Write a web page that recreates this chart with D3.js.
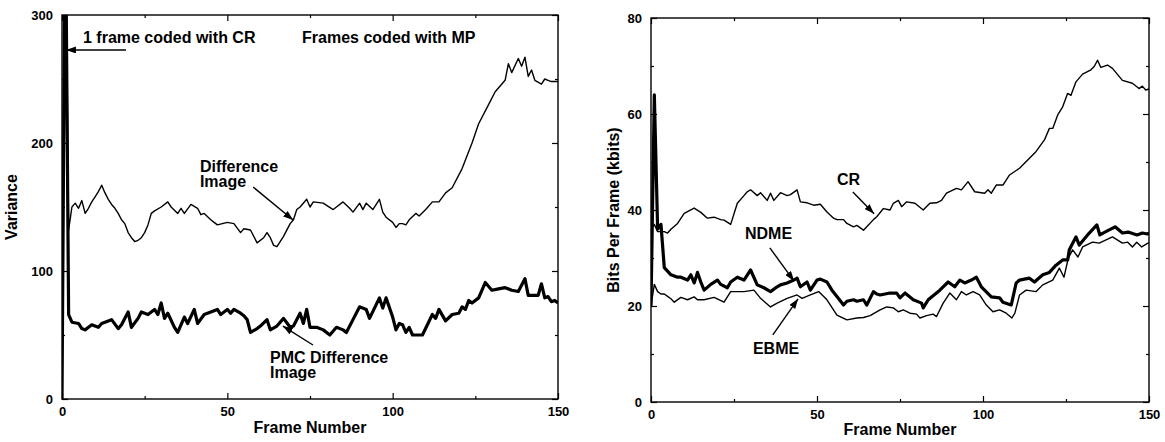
<!DOCTYPE html>
<html><head><meta charset="utf-8">
<script src="https://cdn.jsdelivr.net/npm/d3@7"></script>
<style>
body{margin:0;background:#fff;}
svg{display:block;}
text{font-family:"Liberation Sans",Arial,Helvetica,sans-serif;fill:#000;}
</style></head><body>
<svg id="c" width="1165" height="442"></svg>
<script>
// ---------- DATA ----------
// Left chart: Variance
const diffFrames = [0,1,2,3,4,5,6,7,8,9,10,11,12,13,14,15,16,17,18,19,20,21,22,23,24,25,26,27,28,30,32,33,35,36,37,39,41,42,43,45,46,47,50,52,54,55,57,59,61,62,63,64,65,67,69,70,71,72,74,75,76,79,82,83,85,87,88,90,91,92,94,96,97,98,100,101,102,103,104,105,107,108,110,112,114,116,118,121,124,126,129,131,134,135,136,138,139,140,141,142,143,145,146,147,148,150];
const diffValues = [0,400,132,150,153,149,155,145,149,154,158,162,167,161,156,152,149,145,140,137,130,126,123,124,126,130,136,145,147,150,154,150,145,149,145,152,149,144,145,140,138,136,138,137,130,133,132,122,126,130,126,120,119,127,137,140,148,150,156,150,154,153,148,150,154,149,146,153,148,153,148,156,146,142,138,134,137,137,136,140,145,143,148,154,154,161,165,180,200,215,230,240,249,262,255,266,260,267,252,257,249,246,250,249,248,248];
const pmcFrames = [0,1,2,3,5,6,7,8,9,11,12,14,15,17,18,20,21,23,24,26,28,29,30,31,32,34,35,37,38,40,41,43,45,47,48,50,51,52,54,55,56,57,59,60,62,63,65,67,69,70,72,73,74,75,77,79,81,83,85,86,88,90,92,93,96,97,98,100,101,102,103,104,105,106,109,112,113,114,116,118,120,121,122,123,124,126,128,130,132,134,136,138,140,141,144,145,146,147,148,149,150];
const pmcValues = [0,400,66,60,59,55,54,56,58,56,59,61,62,55,58,68,56,63,68,66,70,66,75,63,67,56,52,64,59,70,59,66,68,70,66,70,67,70,67,65,62,52,55,57,62,54,57,63,56,57,67,59,70,56,56,54,50,56,54,52,62,72,70,63,79,71,79,64,54,59,58,52,56,50,50,66,63,70,61,66,67,72,70,77,75,79,91,85,86,87,85,84,94,81,81,90,79,80,76,77,75];

// Right chart: Bits per frame (kbits)
const crFrames = [0,1,2,4,5,6,8,10,13,15,17,19,21,22,24,26,28,29,30,32,33,35,36,37,39,41,42,44,45,47,49,51,53,55,56,58,59,61,62,64,65,67,68,70,72,73,74.5,75.5,77,79.5,82,84,86,87.5,89,92,93.5,95.5,97.5,100.5,101.5,102.5,104,106,108,111,114,116,118.5,120,121,122.5,124,125.5,126.5,128,130,132.5,133.5,134.5,135.5,137.5,139,142,145,147,148,149,150];
const crValues = [36,37,35.5,35.5,35.2,36,37.2,39.3,40.4,39.5,38.3,38.5,38,37.9,37,41.4,43,43.8,44.2,43,43.6,42,43.5,42,43.6,43,43.2,44.2,41.7,41.5,41,41.2,39.6,38.3,38,38,37.2,36.5,36.8,35.8,36.5,38,38.6,40.3,40,41.4,42,40.7,41.7,41.4,40,41.4,41.5,42,43.5,44.5,44.2,45.9,43.8,43.5,44.2,43.5,45.2,45.2,47.3,48.7,50.8,52.2,54.6,57,57,59.8,61.5,64.3,63.9,66.7,68.3,69.2,69.9,71.2,69.7,70.2,69.5,67,66.4,65.3,65.8,65,65.2];
const ndmeFrames = [0,1,2,3,4,6,8,9,11,12,13,14,15,16,18,20,21,23,24,26,28,30,32,34,36,38,39,41,43,44,45,47,48,50,51,53,54.5,56,58,59,61,62,64,65,67,68,69,72,74,75,76.5,79,81.5,82,83.5,87,89.5,91.5,93,94.5,96.5,98,99.5,102.5,105,106,108.5,110,111,114,115.5,118,120,122,124,125.5,126,128,129,132,134.3,135.2,137,139.8,142,143.7,146.4,148,149.5,150];
const ndmeValues = [20,64,36,37,28,26.5,26,26,25.4,26.5,24.8,27,25,23.3,24.5,25.4,24.5,23.8,25,26,25.4,27.5,24.4,23.8,23,24,24.4,24.8,25.4,25.8,24,25,23.3,25.4,25.6,25,23.3,22,20.2,21,21.3,21,21.3,20.2,23,22.5,22.3,22.7,22.7,21.7,22.7,21.3,20.6,19.6,21.3,23.3,25,24,25.4,24.8,25.4,26,24,21.9,21.7,20.8,20.2,24.8,25.4,25.8,25,26.5,27,28.5,29.6,29.6,31.7,34.4,32.7,35.2,36.9,34.8,35.5,36.5,35.2,35.4,34.8,35.2,35,35.2];
const ebmeFrames = [0,1,2,3,4,5,6,7,9,11,13,14,16,19,22,24,26,28,31,33,36,38,41,44,45.5,48,50.5,53,56,59,62,64,66,69,71,73,74.5,76,78,80,81,83,85,86,88,90,92,93.5,95,97,99,101,103,105,107,108.7,109.6,111,113,116,118,121,123,124.4,125.7,127,128.6,130,133,135,139,142,143.6,145,146.3,147.8,149.4,150];
const ebmeValues = [20,24.5,23,22.5,22.5,22,21.5,20.8,21.8,21.3,21.9,21.3,21.3,21.8,20.8,23,23,23,23.3,21.6,19.8,20.6,21.6,22.3,21.6,22.3,23,21.3,18.1,17.1,17.5,17.6,18,19.2,19.8,19.6,18.8,19.2,18.5,18.3,17.5,18,18.3,17.8,20.6,22.7,21.3,23,22.3,23,22.3,20.2,18.8,19.2,18.5,17.5,18.5,22.3,23.3,23,24.4,25.4,27.9,26,30,31.7,30.2,32.3,33.3,33.1,34.4,33.1,33.3,32.3,33.3,32.3,33,33.2];

// Axis ticks / labels
const xMajor = [0,50,100,150];
const xMinor = [25,75,125];
const leftYMajor = [0,100,200,300];
const leftYMinor = [50,150,250];
const rightYMajor = [0,20,40,60,80];
const rightYMinor = [10,30,50,70];
const leftYTitle = "Variance";
const rightYTitle = "Bits Per Frame (kbits)";
const xTitle = "Frame Number";

// Annotations in data units
const leftTexts = [
  {t:"1 frame coded with CR", f:6.35, v:278},
  {t:"Frames coded with MP", f:72.6, v:278},
  {t:"Difference", f:41.7, v:177.3},
  {t:"Image", f:41.7, v:165.6},
  {t:"PMC Difference", f:62.9, v:28.1},
  {t:"Image", f:62.9, v:16.4}
];
const leftArrows = [
  {f0:19.35, v0:272.7, f1:1.2, v1:272.7},
  {f0:57.8, v0:165.6, f1:69.9, v1:139.8},
  {f0:75.9, v0:42.2, f1:66.8, v1:57}
];
const rightTexts = [
  {t:"CR", f:56, v:45.2},
  {t:"NDME", f:28.3, v:34},
  {t:"EBME", f:30.7, v:10}
];
const rightArrows = [
  {f0:60.8, v0:43.75, f1:67.2, v1:39.2},
  {f0:35.8, v0:32.1, f1:43.1, v1:25.2},
  {f0:36.7, v0:14, f1:44.3, v1:21.5}
];

// ---------- DRAW ----------
const svg = d3.select("#c");
const defs = svg.append("defs");
defs.append("marker").attr("id","ah").attr("markerUnits","userSpaceOnUse")
  .attr("viewBox","0 0 10 7").attr("refX",10).attr("refY",3.5)
  .attr("markerWidth",10).attr("markerHeight",7).attr("orient","auto")
  .append("path").attr("d","M0,0L10,3.5L0,7Z").attr("fill","#000");

function panel(cfg){
  const x = d3.scaleLinear().domain([0,150]).range([cfg.x0,cfg.x1]);
  const y = d3.scaleLinear().domain(cfg.yDomain).range([cfg.y0,cfg.y1]);
  const g = svg.append("g");
  const id = "clip"+cfg.id;
  defs.append("clipPath").attr("id",id).append("rect")
    .attr("x",cfg.x0).attr("y",cfg.y1).attr("width",cfg.x1-cfg.x0).attr("height",cfg.y0-cfg.y1);

  const style = sel => { sel.select(".domain").remove();
    sel.selectAll("line").attr("stroke","#000").attr("stroke-width",1.2);
    sel.selectAll("text").style("font-size","13px").style("font-weight","bold"); };

  // bottom
  g.append("g").attr("transform",`translate(0,${cfg.y0})`)
    .call(d3.axisBottom(x).tickValues(xMajor).tickSize(-6).tickPadding(8).tickFormat(d3.format("d"))).call(style);
  g.append("g").attr("transform",`translate(0,${cfg.y0})`)
    .call(d3.axisBottom(x).tickValues(xMinor).tickSize(-3).tickFormat("")).call(style);
  // top
  g.append("g").attr("transform",`translate(0,${cfg.y1})`)
    .call(d3.axisTop(x).tickValues(xMajor).tickSize(-6).tickFormat("")).call(style);
  g.append("g").attr("transform",`translate(0,${cfg.y1})`)
    .call(d3.axisTop(x).tickValues(xMinor).tickSize(-3).tickFormat("")).call(style);
  // left
  g.append("g").attr("transform",`translate(${cfg.x0},0)`)
    .call(d3.axisLeft(y).tickValues(cfg.yMajor).tickSize(-6).tickPadding(9).tickFormat(d3.format("d"))).call(style);
  g.append("g").attr("transform",`translate(${cfg.x0},0)`)
    .call(d3.axisLeft(y).tickValues(cfg.yMinor).tickSize(-3).tickFormat("")).call(style);
  // right
  g.append("g").attr("transform",`translate(${cfg.x1},0)`)
    .call(d3.axisRight(y).tickValues(cfg.yMajor).tickSize(-6).tickFormat("")).call(style);
  g.append("g").attr("transform",`translate(${cfg.x1},0)`)
    .call(d3.axisRight(y).tickValues(cfg.yMinor).tickSize(-3).tickFormat("")).call(style);

  g.append("rect").attr("x",cfg.x0).attr("y",cfg.y1).attr("width",cfg.x1-cfg.x0).attr("height",cfg.y0-cfg.y1)
    .attr("fill","none").attr("stroke","#000").attr("stroke-width",1.4);

  const lg = g.append("g").attr("clip-path",`url(#${id})`);
  cfg.series.forEach(s=>{
    const pts = s.f.map((f,i)=>[f,s.v[i]]);
    lg.append("path").datum(pts)
      .attr("d", d3.line().x(d=>x(d[0])).y(d=>y(d[1])))
      .attr("fill","none").attr("stroke","#000").attr("stroke-width",s.w)
      .attr("stroke-linejoin","round");
  });

  cfg.texts.forEach(t=>{
    g.append("text").attr("x",x(t.f)).attr("y",y(t.v)).text(t.t)
      .style("font-size","16px").style("font-weight","bold");
  });
  cfg.arrows.forEach(a=>{
    g.append("line").attr("x1",x(a.f0)).attr("y1",y(a.v0)).attr("x2",x(a.f1)).attr("y2",y(a.v1))
      .attr("stroke","#000").attr("stroke-width",1.4).attr("marker-end","url(#ah)");
  });

  g.append("text").attr("x",(cfg.x0+cfg.x1)/2).attr("y",cfg.xTitleY).attr("text-anchor","middle")
    .style("font-size","16px").style("font-weight","bold").text(xTitle);
  g.append("text").attr("transform",`translate(${cfg.yTitleX},${(cfg.y0+cfg.y1)/2}) rotate(-90)`)
    .attr("text-anchor","middle").style("font-size","16px").style("font-weight","bold").text(cfg.yTitle);
}

panel({id:"L", x0:62, x1:558, y0:399, y1:15, yDomain:[0,300], yMajor:leftYMajor, yMinor:leftYMinor,
  series:[{f:diffFrames,v:diffValues,w:1.4},{f:pmcFrames,v:pmcValues,w:3.2}],
  texts:leftTexts, arrows:leftArrows, xTitleY:433, yTitleX:17, yTitle:leftYTitle});

panel({id:"R", x0:651, x1:1149, y0:402, y1:18, yDomain:[0,80], yMajor:rightYMajor, yMinor:rightYMinor,
  series:[{f:crFrames,v:crValues,w:1.4},{f:ndmeFrames,v:ndmeValues,w:3.2},{f:ebmeFrames,v:ebmeValues,w:1.4}],
  texts:rightTexts, arrows:rightArrows, xTitleY:435, yTitleX:619, yTitle:rightYTitle});
</script>
</body></html>
